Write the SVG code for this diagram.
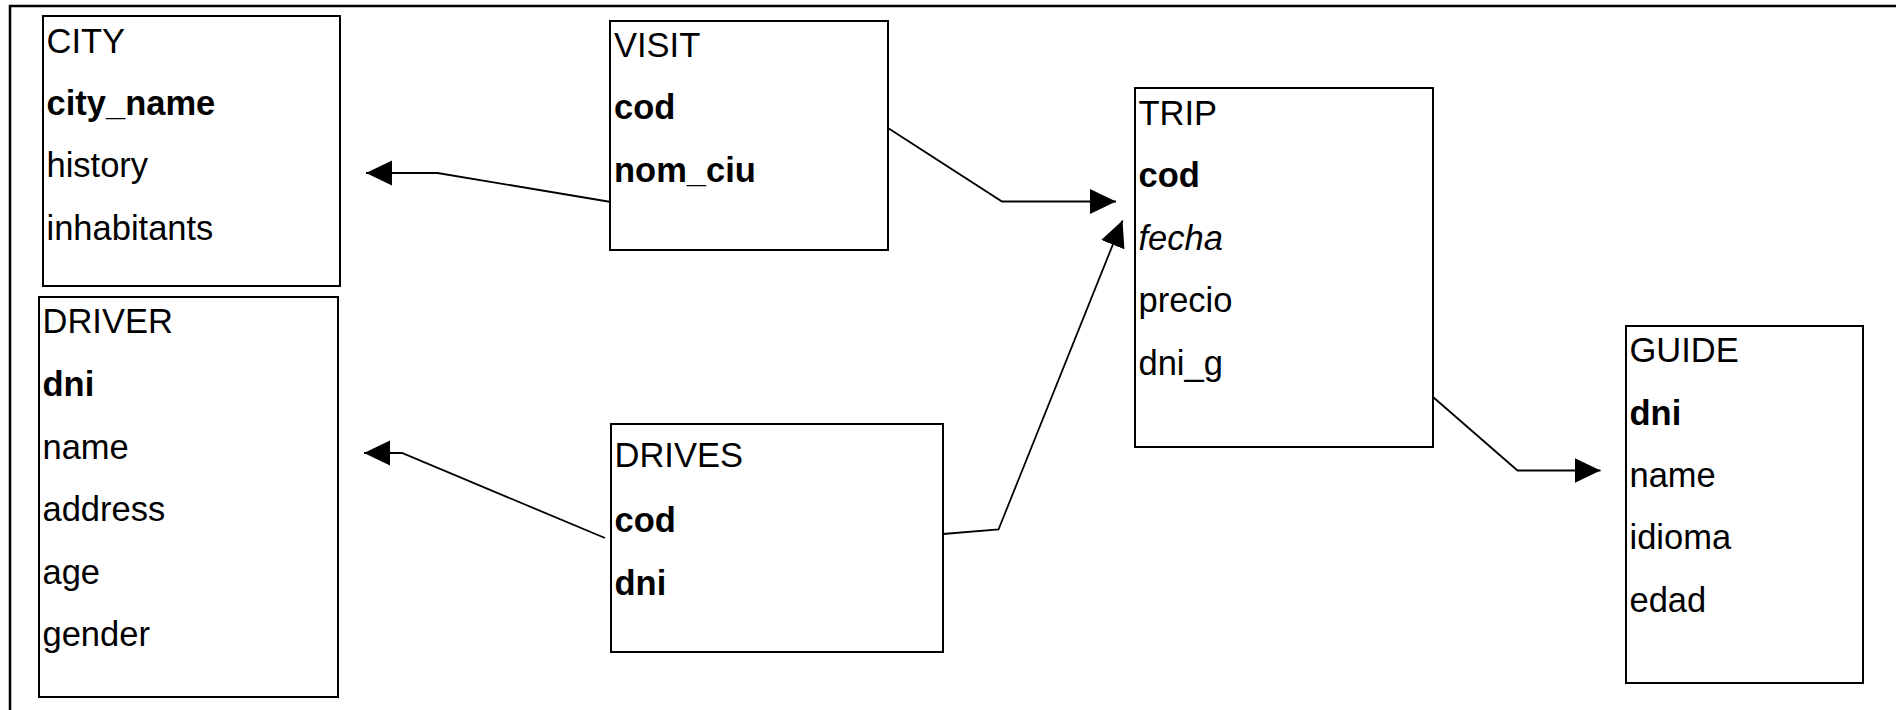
<svg xmlns="http://www.w3.org/2000/svg" width="1896" height="710" viewBox="0 0 1896 710">
<style>
.box{fill:#fff;stroke:#000;stroke-width:2}
text{font-family:"Liberation Sans",Arial,sans-serif;font-size:34.5px;fill:#000}
.b{font-weight:bold}
.i{font-style:italic}
.c{fill:none;stroke:#000;stroke-width:1.8}
</style>
<defs>
<marker id="arr" markerUnits="userSpaceOnUse" markerWidth="27" markerHeight="26" refX="26" refY="12.5" orient="auto" viewBox="0 0 27 26">
<path d="M0,0 L26,12.5 L0,25 z" fill="#000"/>
</marker>
</defs>
<rect x="0" y="0" width="1896" height="710" fill="#fff"/>
<path d="M10,712 L10,6 L1898,6" fill="none" stroke="#000" stroke-width="2.5"/>
<g id="connectors">
<polyline class="c" points="611,202 437.5,173 366,173" marker-end="url(#arr)"/>
<polyline class="c" points="605,538 402,453 364,453" marker-end="url(#arr)"/>
<polyline class="c" points="888,128 1002,201.5 1116,201.5" marker-end="url(#arr)"/>
<polyline class="c" points="943,534 998.5,529.5 1122.5,220.5" marker-end="url(#arr)"/>
<polyline class="c" points="1433,397 1517.5,470.5 1600.5,470.5" marker-end="url(#arr)"/>
</g>
<g id="city">
<rect class="box" x="43" y="16" width="297" height="270"/>
<text x="46.5" y="53">CITY</text>
<text class="b" x="46.5" y="115">city_name</text>
<text x="46.5" y="177">history</text>
<text x="46.5" y="240">inhabitants</text>
</g>
<g id="driver">
<rect class="box" x="39" y="297" width="299" height="400"/>
<text x="42.5" y="333">DRIVER</text>
<text class="b" x="42.5" y="396">dni</text>
<text x="42.5" y="458.5">name</text>
<text x="42.5" y="521">address</text>
<text x="42.5" y="584">age</text>
<text x="42.5" y="646">gender</text>
</g>
<g id="visit">
<rect class="box" x="610" y="21" width="278" height="229"/>
<text x="614" y="57">VISIT</text>
<text class="b" x="614" y="119">cod</text>
<text class="b" x="614" y="182">nom_ciu</text>
</g>
<g id="trip">
<rect class="box" x="1135" y="88" width="298" height="359"/>
<text x="1138.5" y="125">TRIP</text>
<text class="b" x="1138.5" y="187">cod</text>
<text class="i" x="1138.5" y="249.5">fecha</text>
<text x="1138.5" y="312">precio</text>
<text x="1138.5" y="375">dni_g</text>
</g>
<g id="drives">
<rect class="box" x="611" y="424" width="332" height="228"/>
<text x="614.5" y="467">DRIVES</text>
<text class="b" x="614.5" y="531.5">cod</text>
<text class="b" x="614.5" y="595">dni</text>
</g>
<g id="guide">
<rect class="box" x="1626" y="326" width="237" height="357"/>
<text x="1629.5" y="362">GUIDE</text>
<text class="b" x="1629.5" y="424.5">dni</text>
<text x="1629.5" y="487">name</text>
<text x="1629.5" y="549">idioma</text>
<text x="1629.5" y="612">edad</text>
</g>
</svg>
